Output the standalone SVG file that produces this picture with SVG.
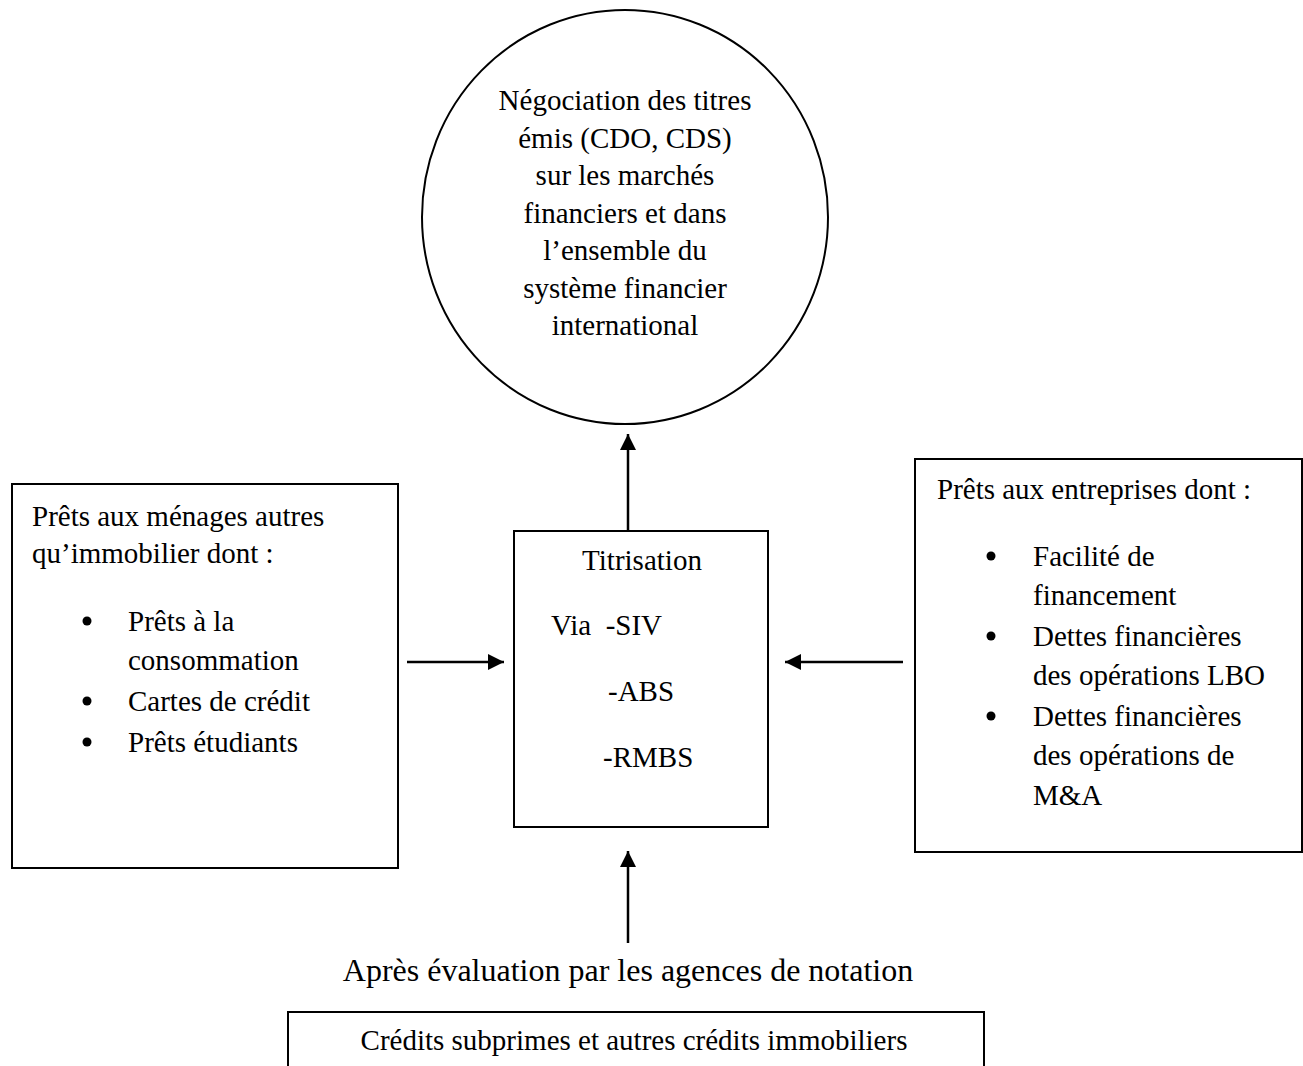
<svg xmlns="http://www.w3.org/2000/svg" width="1303" height="1066" viewBox="0 0 1303 1066">
<style>
text{font-family:"Liberation Serif","Times New Roman",serif;font-size:29px;fill:#000}
.c{text-anchor:middle}
.box{fill:#fff;stroke:#000;stroke-width:2}
.conn{stroke:#000;stroke-width:2.5;fill:none}
</style>
<defs>
<marker id="ah" viewBox="0 0 10 10" refX="10" refY="5" markerWidth="16" markerHeight="16" markerUnits="userSpaceOnUse" orient="auto">
<path d="M0,0 L10,5 L0,10 z" fill="#000"/>
</marker>
</defs>
<rect width="1303" height="1066" fill="#fff"/>
<g id="circle-node">
<ellipse class="box" cx="625" cy="217" rx="203" ry="207"/>
<text class="c" x="625" y="110">Négociation des titres</text>
<text class="c" x="625" y="148">émis (CDO, CDS)</text>
<text class="c" x="625" y="185">sur les marchés</text>
<text class="c" x="625" y="223">financiers et dans</text>
<text class="c" x="625" y="260">l’ensemble du</text>
<text class="c" x="625" y="298">système financier</text>
<text class="c" x="625" y="335">international</text>
</g>
<g id="left-node">
<rect class="box" x="12" y="484" width="386" height="384"/>
<text x="32" y="526">Prêts aux ménages autres</text>
<text x="32" y="563">qu’immobilier dont :</text>
<circle cx="87" cy="621" r="4.5"/>
<text x="128" y="631">Prêts à la</text>
<text x="128" y="670">consommation</text>
<circle cx="87" cy="701" r="4.5"/>
<text x="128" y="711">Cartes de crédit</text>
<circle cx="87" cy="742" r="4.5"/>
<text x="128" y="752">Prêts étudiants</text>
</g>
<g id="titrisation-node">
<rect class="box" x="514" y="531" width="254" height="296"/>
<text class="c" x="642" y="570">Titrisation</text>
<text x="551" y="635" xml:space="preserve" style="white-space:pre">Via  -SIV</text>
<text x="608" y="701">-ABS</text>
<text x="603" y="767">-RMBS</text>
</g>
<g id="right-node">
<rect class="box" x="915" y="459" width="387" height="393"/>
<text x="937" y="499">Prêts aux entreprises dont :</text>
<circle cx="991" cy="556" r="4.5"/>
<text x="1033" y="566">Facilité de</text>
<text x="1033" y="605">financement</text>
<circle cx="991" cy="636" r="4.5"/>
<text x="1033" y="646">Dettes financières</text>
<text x="1033" y="685">des opérations LBO</text>
<circle cx="991" cy="716" r="4.5"/>
<text x="1033" y="726">Dettes financières</text>
<text x="1033" y="765">des opérations de</text>
<text x="1033" y="805">M&amp;A</text>
</g>
<g id="rating-label">
<text class="c" x="628" y="981" style="font-size:32px">Après évaluation par les agences de notation</text>
</g>
<g id="bottom-node">
<path class="box" d="M288,1066 L288,1012 L984,1012 L984,1066"/>
<text class="c" x="634" y="1050">Crédits subprimes et autres crédits immobiliers</text>
</g>
<g id="connectors">
<line class="conn" x1="628" y1="531" x2="628" y2="434" marker-end="url(#ah)"/>
<line class="conn" x1="407" y1="662" x2="504" y2="662" marker-end="url(#ah)"/>
<line class="conn" x1="903" y1="662" x2="785" y2="662" marker-end="url(#ah)"/>
<line class="conn" x1="628" y1="943" x2="628" y2="851" marker-end="url(#ah)"/>
</g>
</svg>
